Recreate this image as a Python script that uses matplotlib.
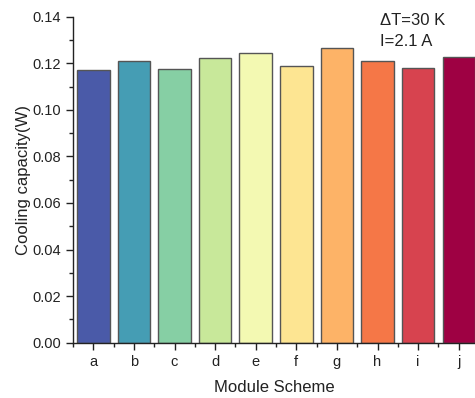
import matplotlib
matplotlib.use("Agg")
import matplotlib.pyplot as plt
from matplotlib.ticker import MultipleLocator

plt.rcParams['font.family'] = ['Liberation Sans', 'DejaVu Sans']

schemes = ['a', 'b', 'c', 'd', 'e', 'f', 'g', 'h', 'i', 'j']
cooling = [0.1171, 0.1210, 0.1177, 0.1224, 0.1243, 0.1187, 0.1264, 0.1208, 0.1180, 0.1228]
colors = ['#4a5aa8', '#459db4', '#86cfa4', '#c8e89a', '#f3f9b2',
          '#fde592', '#fdb367', '#f57747', '#d7434f', '#9e0143']

fig = plt.figure(figsize=(4.75, 3.98), dpi=100)
ax = fig.add_axes([0.1537, 0.139, 0.8463, 0.819])

x = range(len(schemes))
ax.bar(x, cooling, width=0.8, color=colors, edgecolor='#555555', linewidth=1.0)

ax.set_xlim(-0.5, 9.40)
ax.set_ylim(0, 0.14)
ax.set_xticks(list(x))
ax.set_xticklabels(schemes)
ax.xaxis.set_minor_locator(MultipleLocator(0.5))
ax.yaxis.set_major_locator(MultipleLocator(0.02))
ax.yaxis.set_minor_locator(MultipleLocator(0.01))
ax.yaxis.set_major_formatter(matplotlib.ticker.FormatStrFormatter('%.2f'))

for side in ('top', 'right'):
    ax.spines[side].set_visible(False)
for side in ('left', 'bottom'):
    ax.spines[side].set_linewidth(1.0)
    ax.spines[side].set_color('#222222')

ax.tick_params(axis='both', which='major', direction='out', length=5, width=1.0,
               labelsize=10.5, colors='#222222')
ax.tick_params(axis='both', which='minor', direction='out', length=3, width=1.0,
               colors='#222222')
ax.tick_params(axis='x', which='major', pad=4)

ax.set_xlabel('Module Scheme', fontsize=12, color='#222222', labelpad=8)
ax.set_ylabel('Cooling capacity(W)', fontsize=12, color='#222222', labelpad=1)

fig.text(0.80, 0.968, 'ΔT=30 K\nI=2.1 A', fontsize=12,
         va='top', ha='left', color='#222222', linespacing=1.5)

fig.savefig('out.png', dpi=100)
